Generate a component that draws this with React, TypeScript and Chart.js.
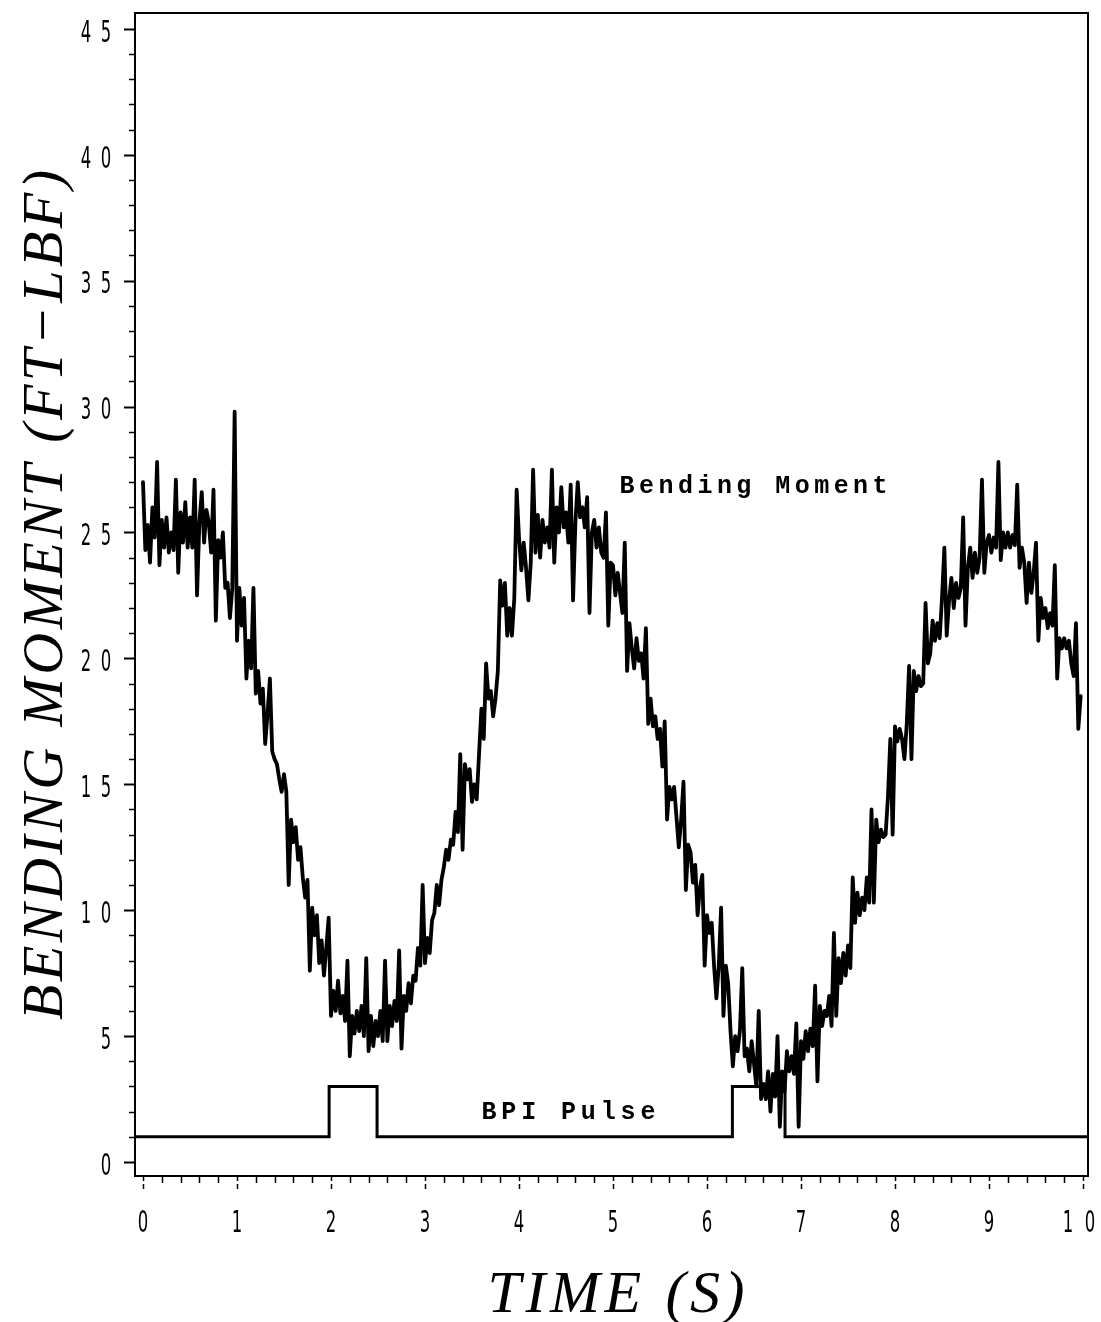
import React, { useEffect, useRef } from "react";
import { Chart, registerables } from "chart.js";

Chart.register(...registerables);

// Sampling interval of the bending-moment record (s)
const SAMPLE_STEP = 0.025;

// Bending moment (FT-LBF), one value every 0.025 s
const bendingMoment = [
  // 0 s
  27.0, 24.3, 25.3, 23.8, 26.0, 24.8, 27.8, 23.7, 25.5, 24.4, 25.6, 24.2, 25.0, 24.3, 27.1, 23.4, 25.8, 24.6, 26.2, 24.4,
  25.6, 24.4, 27.1, 22.5, 25.4, 26.6, 24.6, 25.9, 25.4, 24.2, 26.7, 21.5, 24.7, 24.0, 25.0, 22.8, 23.0, 21.6, 22.8, 29.8,
  // 1 s
  20.7, 22.8, 21.3, 22.4, 19.2, 20.7, 19.6, 22.8, 18.6, 19.5, 18.2, 18.8, 16.6, 17.8, 19.2, 16.3, 16.0, 15.8, 15.2, 14.7,
  15.4, 14.7, 11.0, 13.6, 12.7, 13.3, 12.0, 12.5, 11.3, 10.5, 11.2, 7.6, 10.1, 9.0, 9.8, 7.9, 8.8, 7.4, 8.5, 9.7,
  // 2 s
  5.8, 6.8, 6.0, 7.2, 5.9, 6.6, 5.6, 8.0, 4.2, 5.8, 5.1, 6.0, 5.2, 6.2, 5.0, 8.1, 4.4, 5.8, 4.6, 5.6,
  5.0, 6.0, 4.8, 8.0, 4.8, 6.2, 5.4, 6.4, 5.6, 8.4, 4.5, 6.6, 6.0, 7.1, 6.3, 7.4, 7.2, 8.5, 7.8, 11.0,
  // 3 s
  7.9, 8.9, 8.3, 9.6, 9.9, 11.0, 10.2, 11.2, 11.7, 12.4, 12.0, 12.8, 12.6, 13.9, 13.1, 16.2, 12.4, 15.8, 15.2, 15.6,
  14.3, 15.0, 14.4, 16.2, 18.0, 16.8, 19.8, 18.4, 18.7, 17.7, 18.4, 19.5, 23.1, 22.1, 23.0, 20.9, 22.0, 20.9, 22.4, 26.7,
  // 4 s
  24.8, 23.5, 24.6, 23.6, 22.3, 23.8, 27.5, 24.2, 25.7, 24.0, 25.5, 24.6, 25.2, 24.4, 27.5, 23.8, 26.0, 25.0, 26.8, 25.2,
  25.8, 24.6, 26.9, 22.3, 25.4, 27.0, 25.6, 26.0, 25.2, 26.4, 21.8, 25.0, 25.5, 24.4, 25.2, 24.2, 24.0, 25.8, 21.3, 23.8,
  // 5 s
  23.7, 22.5, 23.4, 22.6, 21.8, 24.6, 19.5, 21.4, 20.4, 19.6, 20.8, 19.9, 20.2, 19.2, 21.2, 17.4, 18.4, 17.3, 17.7, 16.8,
  17.2, 15.7, 17.5, 13.6, 14.9, 14.4, 14.9, 13.7, 12.5, 13.6, 15.1, 10.8, 12.6, 12.3, 11.1, 11.8, 9.8, 10.9, 11.4, 7.8,
  // 6 s
  9.8, 9.1, 9.5, 7.8, 6.5, 7.8, 10.1, 5.8, 7.8, 7.1, 5.2, 3.8, 5.0, 4.4, 5.2, 7.7, 4.2, 4.5, 3.6, 4.8,
  3.9, 3.0, 6.0, 2.5, 3.1, 2.5, 3.6, 2.0, 3.5, 2.6, 5.0, 1.4, 3.6, 2.8, 4.4, 3.6, 4.2, 3.5, 5.5, 1.4,
  // 7 s
  4.8, 4.1, 5.2, 4.4, 5.3, 4.6, 7.0, 3.2, 6.2, 5.4, 6.0, 5.8, 6.6, 5.4, 9.1, 5.8, 8.1, 7.1, 8.3, 7.4,
  8.6, 7.7, 11.3, 9.5, 10.7, 9.8, 10.5, 10.0, 11.3, 10.3, 14.0, 10.3, 13.6, 12.7, 13.2, 12.9, 13.0, 14.5, 16.8, 13.0,
  // 8 s
  17.3, 16.7, 17.2, 16.8, 16.0, 17.4, 19.7, 16.0, 19.5, 18.7, 19.3, 18.9, 19.0, 22.2, 19.8, 20.2, 21.5, 20.7, 21.4, 20.8,
  22.4, 24.4, 20.9, 22.3, 23.2, 22.0, 23.0, 22.4, 22.8, 25.6, 21.3, 23.6, 24.4, 23.2, 24.2, 23.4, 24.0, 27.1, 23.4, 24.6,
  // 9 s
  24.9, 24.2, 24.8, 24.4, 27.8, 23.9, 25.0, 24.4, 25.0, 24.4, 24.9, 24.5, 26.9, 23.6, 24.4, 23.8, 22.2, 23.8, 22.6, 23.4,
  24.6, 20.7, 22.4, 21.6, 22.0, 21.2, 21.8, 21.3, 23.7, 19.2, 20.8, 20.4, 20.8, 20.4, 20.7, 19.8, 19.3, 21.4, 17.2, 18.5,
];

// BPI pulse trace (step signal)
const pulseTime = [-0.085, 1.98, 1.98, 2.49, 2.49, 6.27, 6.27, 6.83, 6.83, 10.053];
const pulseLevel = [1, 1, 3, 3, 1, 1, 3, 3, 1, 1];

// Axis ticks
const xTickValues = [0, 1, 2, 3, 4, 5, 6, 7, 8, 9, 10];
const xTickLabels = ["0", "1", "2", "3", "4", "5", "6", "7", "8", "9", "10"];
const yTickValues = [0, 5, 10, 15, 20, 25, 30, 35, 40, 45];
const yTickLabels = ["0", "5", "10", "15", "20", "25", "30", "35", "40", "45"];

const X_MIN = -0.085;
const X_MAX = 10.053;
const Y_MIN = -0.556;
const Y_MAX = 45.63;

const Y_TITLE = "BENDING MOMENT (FT\u2212LBF)";
const X_TITLE = "TIME (S)";
const SERIES_LABEL = "Bending Moment";
const PULSE_LABEL = "BPI Pulse";
const SERIES_LABEL_POS = { t: 5.07, v: 26.57 };
const PULSE_LABEL_POS = { t: 3.6, v: 1.71 };

function drawDigits(ctx: CanvasRenderingContext2D, text: string, cx: number, cy: number, advance: number) {
  const n = text.length;
  const start = cx - ((n - 1) * advance) / 2;
  for (let i = 0; i < n; i++) {
    ctx.save();
    ctx.translate(start + i * advance, cy);
    ctx.scale(0.55, 1);
    ctx.textAlign = "center";
    ctx.textBaseline = "middle";
    ctx.fillText(text[i], 0, 0);
    ctx.restore();
  }
}

function spacedText(ctx: any, text: string, x: number, y: number, targetWidth: number) {
  ctx.letterSpacing = "0px";
  const w0 = ctx.measureText(text).width;
  const ls = (targetWidth - w0) / Math.max(1, text.length - 1);
  ctx.letterSpacing = ls + "px";
  ctx.textAlign = "left";
  ctx.fillText(text, x - targetWidth / 2, y);
  ctx.letterSpacing = "0px";
}

const decorPlugin = {
  id: "decor",
  afterDraw(chart: any) {
    const { ctx, chartArea: a } = chart;
    const xs = chart.scales.x;
    const ys = chart.scales.y;
    ctx.save();
    ctx.strokeStyle = "#000";
    ctx.fillStyle = "#000";

    // frame
    ctx.lineWidth = 2;
    ctx.strokeRect(a.left, a.top, a.right - a.left, a.bottom - a.top);

    // y ticks (minor every 1, major every 5)
    for (let v = 0; v <= 45; v++) {
      const py = Math.round(ys.getPixelForValue(v)) + 0.5;
      const major = v % 5 === 0;
      ctx.lineWidth = major ? 2 : 1.5;
      ctx.beginPath();
      ctx.moveTo(a.left - (major ? 11 : 6), py);
      ctx.lineTo(a.left, py);
      ctx.stroke();
    }

    // x ticks (minor every 0.2, major every 1)
    for (let i = 0; i <= 50; i++) {
      const px = Math.round(xs.getPixelForValue(i / 5)) + 0.5;
      const major = i % 5 === 0;
      ctx.lineWidth = 1.5;
      if (major) ctx.setLineDash([5, 3]);
      ctx.beginPath();
      ctx.moveTo(px, a.bottom);
      ctx.lineTo(px, a.bottom + (major ? 16 : 7));
      ctx.stroke();
      ctx.setLineDash([]);
    }

    // tick labels
    ctx.font = "30px 'DejaVu Sans'";
    yTickValues.forEach((v, i) => {
      const lab = yTickLabels[i];
      const py = ys.getPixelForValue(v) + 5;
      const adv = 20;
      const cx = 106 - ((lab.length - 1) * adv) / 2;
      drawDigits(ctx, lab, cx, py, adv);
    });
    xTickValues.forEach((v, i) => {
      const lab = xTickLabels[i];
      const px = xs.getPixelForValue(v) + (lab.length > 1 ? -4 : 0);
      drawDigits(ctx, lab, px, a.bottom + 48, lab.length > 1 ? 22 : 19);
    });

    // axis titles
    ctx.font = "italic 58px 'Liberation Serif'";
    ctx.textBaseline = "alphabetic";
    ctx.save();
    ctx.translate(62, 595);
    ctx.rotate(-Math.PI / 2);
    spacedText(ctx, Y_TITLE, 0, 0, 850);
    ctx.restore();

    ctx.font = "italic 60px 'Liberation Serif'";
    spacedText(ctx, X_TITLE, 616, 1312, 257);

    // in-plot labels
    ctx.font = "bold 25px 'Liberation Mono'";
    ctx.textBaseline = "alphabetic";
    const sx = xs.getPixelForValue(SERIES_LABEL_POS.t);
    const sy = ys.getPixelForValue(SERIES_LABEL_POS.v);
    ctx.letterSpacing = "0px";
    const w1 = ctx.measureText(SERIES_LABEL).width;
    ctx.letterSpacing = (268 - w1) / (SERIES_LABEL.length - 1) + "px";
    ctx.textAlign = "left";
    ctx.fillText(SERIES_LABEL, sx, sy);
    ctx.letterSpacing = "0px";
    const w2 = ctx.measureText(PULSE_LABEL).width;
    ctx.letterSpacing = (174 - w2) / (PULSE_LABEL.length - 1) + "px";
    ctx.fillText(PULSE_LABEL, xs.getPixelForValue(PULSE_LABEL_POS.t), ys.getPixelForValue(PULSE_LABEL_POS.v));
    ctx.letterSpacing = "0px";

    ctx.restore();
  },
};

export default function App() {
  const ref = useRef<HTMLCanvasElement>(null);
  useEffect(() => {
    const canvas = ref.current;
    if (!canvas) return;
    const bendPoints = bendingMoment.map((v, i) => ({ x: i * SAMPLE_STEP, y: v }));
    const pulsePoints = pulseTime.map((t, i) => ({ x: t, y: pulseLevel[i] }));
    const chart = new Chart(canvas, {
      type: "line",
      data: {
        datasets: [
          {
            label: SERIES_LABEL,
            data: bendPoints,
            borderColor: "#000",
            borderWidth: 3.8,
            pointRadius: 0,
            tension: 0,
            borderJoinStyle: "round",
            borderCapStyle: "round",
          },
          {
            label: PULSE_LABEL,
            data: pulsePoints,
            borderColor: "#000",
            borderWidth: 3,
            pointRadius: 0,
            tension: 0,
          },
        ],
      },
      options: {
        animation: false,
        responsive: false,
        devicePixelRatio: 1,
        layout: { padding: { left: 0, top: 13, right: 13, bottom: 0 } },
        plugins: { legend: { display: false }, tooltip: { enabled: false } },
        scales: {
          x: {
            type: "linear",
            min: X_MIN,
            max: X_MAX,
            grid: { display: false },
            border: { display: false },
            ticks: { display: false },
            afterFit: (s: any) => {
              s.height = 146;
            },
          },
          y: {
            type: "linear",
            min: Y_MIN,
            max: Y_MAX,
            grid: { display: false },
            border: { display: false },
            ticks: { display: false },
            afterFit: (s: any) => {
              s.width = 135;
            },
          },
        },
      } as any,
      plugins: [decorPlugin],
    });
    return () => chart.destroy();
  }, []);
  return (
    <div style={{ position: "absolute", left: 0, top: 0, width: 1101, height: 1322, background: "#fff" }}>
      <canvas ref={ref} width={1101} height={1322} style={{ display: "block" }} />
    </div>
  );
}
